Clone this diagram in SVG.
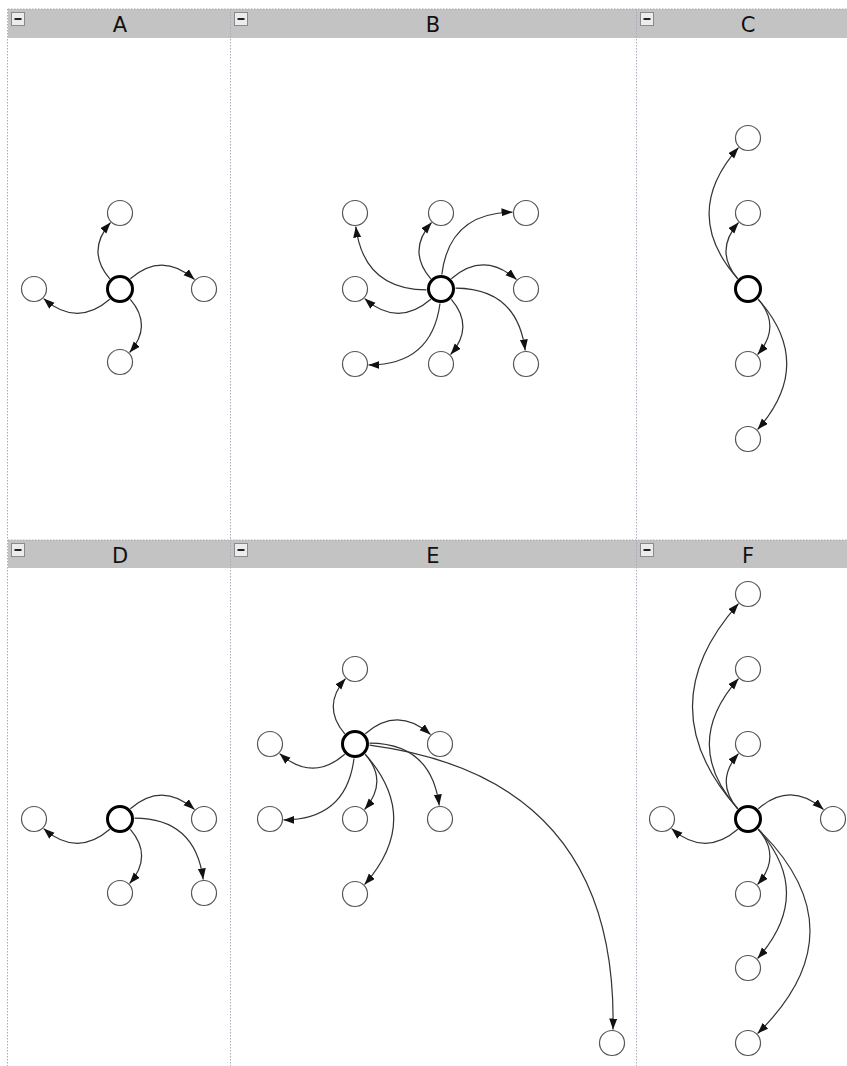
<svg xmlns="http://www.w3.org/2000/svg" width="847" height="1066" viewBox="0 0 847 1066">
<style>
.hdr{fill:#c3c3c3}
.div{stroke:#a9abb8;stroke-width:1;stroke-dasharray:1.5,1.5;fill:none}
.ttl{font-family:"DejaVu Sans",sans-serif;font-size:21px;fill:#111;text-anchor:middle}
.btn{fill:#ececec;stroke:#8a8a8a;stroke-width:1}
.btnm{stroke:#222;stroke-width:2}
.n{fill:#fff;stroke:#555;stroke-width:1.2}
.c{fill:#fff;stroke:#000;stroke-width:3}
.e{fill:none;stroke:#333;stroke-width:1.2;marker-end:url(#ah)}
</style>
<defs>
<marker id="ah" markerUnits="userSpaceOnUse" markerWidth="12" markerHeight="9" refX="11" refY="4" orient="auto">
<path d="M0,0 L11,4 L0,8 z" fill="#111"/>
</marker>
</defs>
<rect width="847" height="1066" fill="#fff"/>
<g id="headers">
<rect class="hdr" x="8" y="9" width="839" height="29"/>
<rect class="hdr" x="8" y="540" width="839" height="28"/>
<line class="div" x1="8" y1="9" x2="847" y2="9"/>
<line class="div" x1="8" y1="540" x2="847" y2="540"/>
<line class="div" x1="7.5" y1="9" x2="7.5" y2="1066"/>
<line class="div" x1="230.5" y1="9" x2="230.5" y2="1066"/>
<line class="div" x1="636.5" y1="9" x2="636.5" y2="1066"/>
<g id="btns">
<rect class="btn" x="11.5" y="12.5" width="13" height="13"/><line class="btnm" x1="14.5" y1="19" x2="21.5" y2="19"/>
<rect class="btn" x="234.5" y="12.5" width="13" height="13"/><line class="btnm" x1="237.5" y1="19" x2="244.5" y2="19"/>
<rect class="btn" x="640.5" y="12.5" width="13" height="13"/><line class="btnm" x1="643.5" y1="19" x2="650.5" y2="19"/>
<rect class="btn" x="11.5" y="543.5" width="13" height="13"/><line class="btnm" x1="14.5" y1="550" x2="21.5" y2="550"/>
<rect class="btn" x="234.5" y="543.5" width="13" height="13"/><line class="btnm" x1="237.5" y1="550" x2="244.5" y2="550"/>
<rect class="btn" x="640.5" y="543.5" width="13" height="13"/><line class="btnm" x1="643.5" y1="550" x2="650.5" y2="550"/>
</g>
<text class="ttl" x="120" y="32">A</text>
<text class="ttl" x="433" y="32">B</text>
<text class="ttl" x="748" y="32">C</text>
<text class="ttl" x="120" y="563">D</text>
<text class="ttl" x="433" y="563">E</text>
<text class="ttl" x="748" y="563">F</text>
</g>
<g id="connectors">
<!-- A -->
<path class="e" d="M109.8,278.8 Q85.8,251 110.5,222.5"/>
<path class="e" d="M130.3,278.8 Q162,251.2 194.5,279.5"/>
<path class="e" d="M130.3,299.3 Q152.9,325.5 129.6,352.5"/>
<path class="e" d="M109.8,299.3 Q77,327.7 43.6,298.6"/>
<!-- B -->
<path class="e" d="M430.8,278.8 Q406.8,251 431.5,222.5"/>
<path class="e" d="M441.8,274.5 Q449.3,212.8 512.5,212.2"/>
<path class="e" d="M451.3,278.8 Q483.5,250.8 516.5,279.5"/>
<path class="e" d="M455.5,288.1 Q517.3,288.3 525.2,350.5"/>
<path class="e" d="M451.3,299.3 Q474.8,326.5 450.6,354.5"/>
<path class="e" d="M440,303.5 Q431.8,365.2 368.5,364.9"/>
<path class="e" d="M430.8,299.3 Q398,327.7 364.6,298.6"/>
<path class="e" d="M426.5,289.9 Q363.8,289.7 355.8,226.5"/>
<!-- C -->
<path class="e" d="M737.8,278.8 Q713.8,251 738.5,222.5"/>
<path class="e" d="M737.8,278.8 Q680,213.5 738.5,147.6"/>
<path class="e" d="M758.3,299.3 Q781.8,326.5 757.6,354.5"/>
<path class="e" d="M758.3,299.3 Q815.5,364 757.6,429.5"/>
<!-- D -->
<path class="e" d="M109.8,829.3 Q77,857.7 43.6,828.6"/>
<path class="e" d="M130.3,808.8 Q162,781.2 194.5,809.5"/>
<path class="e" d="M130.3,829.3 Q153.3,856 129.6,883.5"/>
<path class="e" d="M134.5,818.1 Q195.3,818.2 203.2,879.5"/>
<!-- E -->
<path class="e" d="M344.8,733.8 Q321.3,706.5 345.5,678.6"/>
<path class="e" d="M344.8,754.3 Q312.5,782.3 279.6,753.6"/>
<path class="e" d="M365.3,733.8 Q397.5,705.8 430.5,734.5"/>
<path class="e" d="M354,758.5 Q346.3,819.8 283.5,819.9"/>
<path class="e" d="M365.3,754.3 Q388.8,781.5 364.6,809.5"/>
<path class="e" d="M369.5,743.1 Q431.3,743.3 439.2,805.5"/>
<path class="e" d="M365.3,754.3 Q422.5,819 364.6,884.5"/>
<path class="e" d="M369.5,745.1 Q618,777.9 613,1029.5"/>
<!-- F -->
<path class="e" d="M737.8,829.3 Q705,857.7 671.6,828.6"/>
<path class="e" d="M758.3,808.8 Q790.5,780.8 823.5,809.5"/>
<path class="e" d="M737.8,808.8 Q714.3,781.5 738.5,753.6"/>
<path class="e" d="M737.8,808.8 Q680.5,744 738.5,678.6"/>
<path class="e" d="M737.8,808.8 Q646.8,706.5 738.5,603.6"/>
<path class="e" d="M758.3,829.3 Q781.8,856.5 757.6,884.5"/>
<path class="e" d="M758.3,829.3 Q815,893.5 757.6,958.5"/>
<path class="e" d="M758.3,829.3 Q862,931 757.6,1033.5"/>
</g>
<g id="A-center"><circle class="c" cx="120" cy="289" r="12.5"/></g>
<g id="A-top"><circle class="n" cx="120" cy="213" r="12.5"/></g>
<g id="A-right"><circle class="n" cx="204" cy="289" r="12.5"/></g>
<g id="A-bottom"><circle class="n" cx="120" cy="362" r="12.5"/></g>
<g id="A-left"><circle class="n" cx="34" cy="289" r="12.5"/></g>
<g id="B-center"><circle class="c" cx="441" cy="289" r="12.5"/></g>
<g id="B-tl"><circle class="n" cx="355" cy="213" r="12.5"/></g>
<g id="B-t"><circle class="n" cx="441" cy="213" r="12.5"/></g>
<g id="B-tr"><circle class="n" cx="526" cy="213" r="12.5"/></g>
<g id="B-l"><circle class="n" cx="355" cy="289" r="12.5"/></g>
<g id="B-r"><circle class="n" cx="526" cy="289" r="12.5"/></g>
<g id="B-bl"><circle class="n" cx="355" cy="364" r="12.5"/></g>
<g id="B-b"><circle class="n" cx="441" cy="364" r="12.5"/></g>
<g id="B-br"><circle class="n" cx="526" cy="364" r="12.5"/></g>
<g id="C-center"><circle class="c" cx="748" cy="289" r="12.5"/></g>
<g id="C-1"><circle class="n" cx="748" cy="138" r="12.5"/></g>
<g id="C-2"><circle class="n" cx="748" cy="213" r="12.5"/></g>
<g id="C-3"><circle class="n" cx="748" cy="364" r="12.5"/></g>
<g id="C-4"><circle class="n" cx="748" cy="439" r="12.5"/></g>
<g id="D-center"><circle class="c" cx="120" cy="819" r="12.5"/></g>
<g id="D-left"><circle class="n" cx="34" cy="819" r="12.5"/></g>
<g id="D-right"><circle class="n" cx="204" cy="819" r="12.5"/></g>
<g id="D-bottom"><circle class="n" cx="120" cy="893" r="12.5"/></g>
<g id="D-br"><circle class="n" cx="204" cy="893" r="12.5"/></g>
<g id="E-center"><circle class="c" cx="355" cy="744" r="12.5"/></g>
<g id="E-top"><circle class="n" cx="355" cy="669" r="12.5"/></g>
<g id="E-left"><circle class="n" cx="270" cy="744" r="12.5"/></g>
<g id="E-right"><circle class="n" cx="440" cy="744" r="12.5"/></g>
<g id="E-bl"><circle class="n" cx="270" cy="819" r="12.5"/></g>
<g id="E-b"><circle class="n" cx="355" cy="819" r="12.5"/></g>
<g id="E-br"><circle class="n" cx="440" cy="819" r="12.5"/></g>
<g id="E-bb"><circle class="n" cx="355" cy="894" r="12.5"/></g>
<g id="E-far"><circle class="n" cx="612" cy="1043" r="12.5"/></g>
<g id="F-center"><circle class="c" cx="748" cy="819" r="12.5"/></g>
<g id="F-left"><circle class="n" cx="662" cy="819" r="12.5"/></g>
<g id="F-right"><circle class="n" cx="833" cy="819" r="12.5"/></g>
<g id="F-u1"><circle class="n" cx="748" cy="744" r="12.5"/></g>
<g id="F-u2"><circle class="n" cx="748" cy="669" r="12.5"/></g>
<g id="F-u3"><circle class="n" cx="748" cy="594" r="12.5"/></g>
<g id="F-d1"><circle class="n" cx="748" cy="894" r="12.5"/></g>
<g id="F-d2"><circle class="n" cx="748" cy="968" r="12.5"/></g>
<g id="F-d3"><circle class="n" cx="748" cy="1043" r="12.5"/></g>
</svg>
